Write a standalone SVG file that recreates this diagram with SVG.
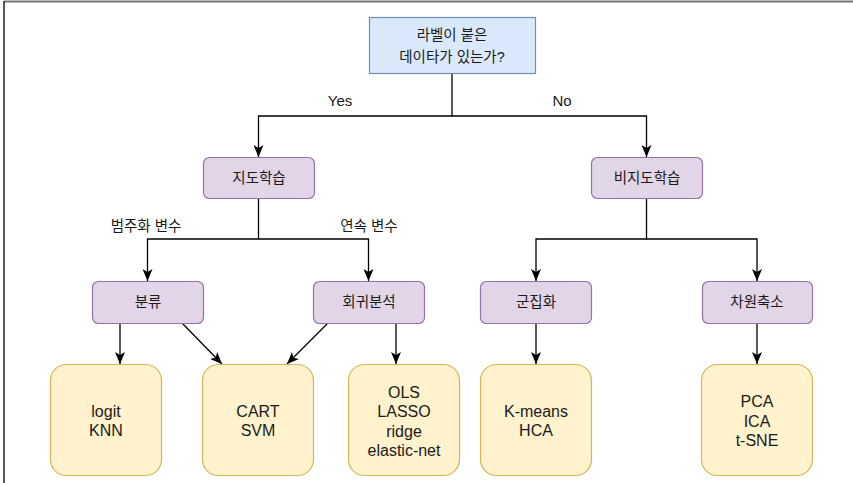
<svg xmlns="http://www.w3.org/2000/svg" width="853" height="483" viewBox="0 0 853 483">
<style>
text{font-family:"Liberation Sans","Noto Sans CJK KR",sans-serif;fill:#1a1a1a;text-anchor:middle}
.ko{font-size:14.5px}
.en{font-size:16px}
.blue{fill:#dae8fc;stroke:#6c8ebf;stroke-width:1.2}
.purple{fill:#e1d5e7;stroke:#9673a6;stroke-width:1.2}
.yellow{fill:#fff2cc;stroke:#d6b656;stroke-width:1.2}
.edge{fill:none;stroke:#000;stroke-width:1.3}
</style>
<defs>
<marker id="arr" viewBox="0 0 12 10" refX="12" refY="5" markerWidth="12" markerHeight="10" markerUnits="userSpaceOnUse" orient="auto">
<path d="M0,0 L12,5 L0,10 L3,5 Z" fill="#000"/>
</marker>
</defs>
<rect width="853" height="483" fill="#fff"/>
<line x1="4" y1="1.5" x2="853" y2="1.5" stroke="#777" stroke-width="2"/>
<line x1="4" y1="1" x2="4" y2="483" stroke="#000" stroke-width="1.3"/>

<g id="connectors">
<path class="edge" d="M452 73 V116 H258.5 V157" marker-end="url(#arr)"/>
<path class="edge" d="M452 116 H646.5 V157" marker-end="url(#arr)"/>
<path class="edge" d="M258.5 198 V239 H147.5 V281" marker-end="url(#arr)"/>
<path class="edge" d="M258.5 239 H368.5 V281" marker-end="url(#arr)"/>
<path class="edge" d="M646.5 198 V239 H536 V281" marker-end="url(#arr)"/>
<path class="edge" d="M646.5 239 H757 V281" marker-end="url(#arr)"/>
<path class="edge" d="M120 323 V364" marker-end="url(#arr)"/>
<path class="edge" d="M182 323 L222 364" marker-end="url(#arr)"/>
<path class="edge" d="M328 323 L287 364" marker-end="url(#arr)"/>
<path class="edge" d="M396 323 V364" marker-end="url(#arr)"/>
<path class="edge" d="M536 323 V364" marker-end="url(#arr)"/>
<path class="edge" d="M757 323 V364" marker-end="url(#arr)"/>
<text class="en" x="340" y="106" style="font-size:15px">Yes</text>
<text class="en" x="562" y="106" style="font-size:15px">No</text>
<text class="ko" x="146" y="231">범주화 변수</text>
<text class="ko" x="369" y="231">연속 변수</text>
</g>

<g id="root">
<rect class="blue" x="369.5" y="17.5" width="166" height="56"/>
<text class="ko" x="452" y="40">라벨이 붙은</text>
<text class="ko" x="452" y="62">데이타가 있는가?</text>
</g>
<g id="supervised">
<rect class="purple" x="203.5" y="157.5" width="111" height="41" rx="6"/>
<text class="ko" x="259" y="183">지도학습</text>
</g>
<g id="unsupervised">
<rect class="purple" x="591.5" y="157.5" width="111" height="41" rx="6"/>
<text class="ko" x="647" y="183">비지도학습</text>
</g>
<g id="classification">
<rect class="purple" x="92.5" y="281.5" width="111" height="42" rx="6"/>
<text class="ko" x="148" y="307">분류</text>
</g>
<g id="regression">
<rect class="purple" x="313.5" y="281.5" width="111" height="42" rx="6"/>
<text class="ko" x="369" y="307">회귀분석</text>
</g>
<g id="clustering">
<rect class="purple" x="480.5" y="281.5" width="111" height="42" rx="6"/>
<text class="ko" x="536" y="307">군집화</text>
</g>
<g id="dimred">
<rect class="purple" x="702.5" y="281.5" width="110" height="42" rx="6"/>
<text class="ko" x="757" y="307">차원축소</text>
</g>
<g id="logit">
<rect class="yellow" x="50.5" y="364.5" width="111" height="111" rx="16"/>
<text class="en" x="106" y="417">logit</text>
<text class="en" x="106" y="436">KNN</text>
</g>
<g id="cart">
<rect class="yellow" x="202.5" y="364.5" width="111" height="111" rx="16"/>
<text class="en" x="258" y="417">CART</text>
<text class="en" x="258" y="436">SVM</text>
</g>
<g id="ols">
<rect class="yellow" x="348.5" y="364.5" width="111" height="111" rx="16"/>
<text class="en" x="404" y="398">OLS</text>
<text class="en" x="404" y="417">LASSO</text>
<text class="en" x="404" y="436.5">ridge</text>
<text class="en" x="404" y="456">elastic-net</text>
</g>
<g id="kmeans">
<rect class="yellow" x="480.5" y="364.5" width="111" height="111" rx="16"/>
<text class="en" x="536" y="417">K-means</text>
<text class="en" x="536" y="436">HCA</text>
</g>
<g id="pca">
<rect class="yellow" x="701.5" y="364.5" width="111" height="111" rx="16"/>
<text class="en" x="757" y="407">PCA</text>
<text class="en" x="757" y="426.5">ICA</text>
<text class="en" x="757" y="446">t-SNE</text>
</g>
</svg>
